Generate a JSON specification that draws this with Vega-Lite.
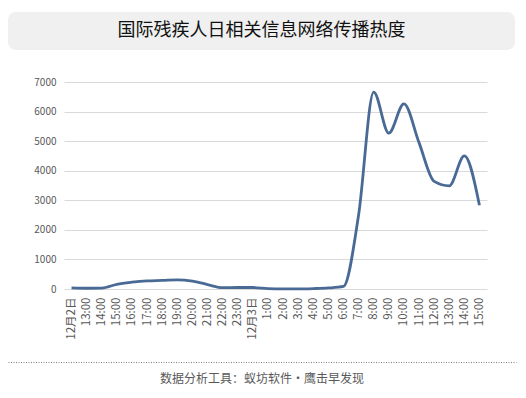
{
  "$schema": "https://vega.github.io/schema/vega-lite/v6.json",
  "padding": {"left": 8, "top": 12, "right": 10, "bottom": 2},
  "background": "white",
  "config": {"view": {"stroke": null}, "font": "Noto Sans CJK SC"},
  "concat": [
    {
      "width": 507,
      "height": 38,
      "view": {"fill": "#f0f0f0", "stroke": null, "cornerRadius": 8},
      "data": {"values": [{"t": "国际残疾人日相关信息网络传播热度"}]},
      "mark": {"type": "text", "fontSize": 18, "color": "#111111", "font": "Noto Sans CJK SC"},
      "encoding": {"text": {"field": "t"}}
    },
    {
      "concat": [
        {
          "width": 479,
          "height": 207,
          "data": {"values": [
            {"time": "12月2日", "value": 35},
            {"time": "13:00", "value": 25},
            {"time": "14:00", "value": 30},
            {"time": "15:00", "value": 160},
            {"time": "16:00", "value": 230},
            {"time": "17:00", "value": 275},
            {"time": "18:00", "value": 290},
            {"time": "19:00", "value": 310},
            {"time": "20:00", "value": 265},
            {"time": "21:00", "value": 150},
            {"time": "22:00", "value": 45},
            {"time": "23:00", "value": 50},
            {"time": "12月3日", "value": 50},
            {"time": "1:00", "value": 15},
            {"time": "2:00", "value": 5},
            {"time": "3:00", "value": 5},
            {"time": "4:00", "value": 15},
            {"time": "5:00", "value": 35},
            {"time": "6:00", "value": 85},
            {"time": "7:00", "value": 2500},
            {"time": "8:00", "value": 6660},
            {"time": "9:00", "value": 5270},
            {"time": "10:00", "value": 6260},
            {"time": "11:00", "value": 4950},
            {"time": "12:00", "value": 3640},
            {"time": "13:00 ", "value": 3490},
            {"time": "14:00 ", "value": 4500},
            {"time": "15:00 ", "value": 2830}
          ]},
          "mark": {"type": "line", "interpolate": "monotone", "color": "#4a6a96", "strokeWidth": 2.8},
          "encoding": {
            "x": {
              "field": "time", "type": "ordinal", "sort": null,
              "scale": {"range": [56, 479]},
              "axis": {"title": null, "labelAngle": -90, "labelFontSize": 11.5, "labelColor": "#595959", "labelPadding": 8, "ticks": false, "domain": false, "grid": false}
            },
            "y": {
              "field": "value", "type": "quantitative",
              "scale": {"domain": [0, 7000]},
              "axis": {"title": null, "format": "d", "offset": -56, "values": [0, 1000, 2000, 3000, 4000, 5000, 6000, 7000], "labelFontSize": 10, "labelColor": "#595959", "labelPadding": 8, "ticks": false, "domain": false, "gridColor": "#d9d9d9", "gridWidth": 1}
            }
          }
        },
        {
          "width": 508,
          "height": 34,
          "data": {"values": [{"pos": 0.5, "t": "数据分析工具：蚁坊软件·鹰击早发现"}]},
          "mark": {"type": "text", "fontSize": 12, "color": "#595959"},
          "encoding": {
            "x": {"field": "pos", "type": "quantitative", "scale": {"domain": [0, 1]},
              "axis": {"orient": "top", "title": null, "labels": false, "ticks": false, "grid": false, "domainColor": "#7f7f7f", "domainDash": [1, 1.5], "domainWidth": 1}},
            "text": {"field": "t"}
          }
        }
      ],
      "columns": 1,
      "spacing": 22
    }
  ],
  "columns": 1,
  "spacing": 27
}
